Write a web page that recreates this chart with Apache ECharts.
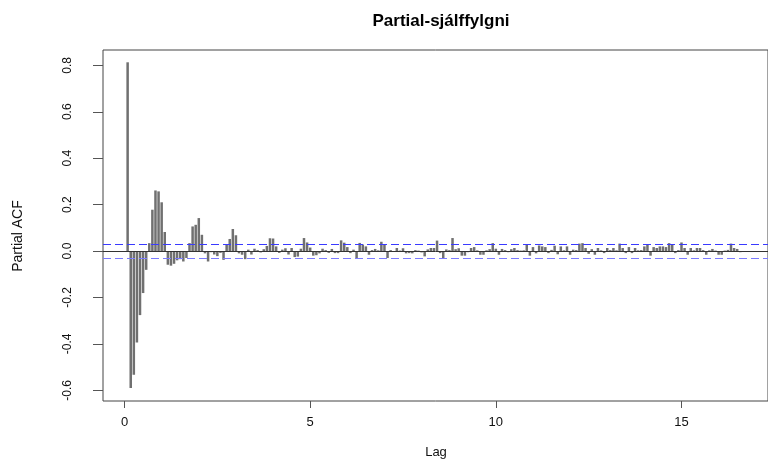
<!DOCTYPE html>
<html>
<head>
<meta charset="utf-8">
<script src="https://cdn.jsdelivr.net/npm/echarts@6/dist/echarts.min.js"></script>
<style>html,body{margin:0;padding:0;background:#fff}#c{width:768px;height:459px}</style>
</head>
<body>
<div id="c"></div>
<script>
const titleText = 'Partial-sjálffylgni';
const xTitle = 'Lag';
const yTitle = 'Partial ACF';
const lagFrequency = 12;
const xTicks = [0, 5, 10, 15];
const yTicks = [-0.6, -0.4, -0.2, 0.0, 0.2, 0.4, 0.6, 0.8];
const ciBound = 0.03;
const pacf = [
  0.813, -0.590, -0.533, -0.394, -0.276, -0.181, -0.081, 0.034, 0.178, 0.261,
  0.257, 0.210, 0.082, -0.059, -0.063, -0.055, -0.040, -0.035, -0.045, -0.030,
  0.034, 0.106, 0.113, 0.142, 0.070, -0.010, -0.045, -0.005, -0.015, -0.022,
  -0.008, -0.038, 0.030, 0.052, 0.095, 0.068, -0.010, -0.016, -0.035, 0.006,
  -0.015, 0.010, 0.004, -0.006, 0.008, 0.022, 0.055, 0.054, 0.020, -0.008,
  0.006, 0.012, -0.015, 0.013, -0.026, -0.024, 0.010, 0.056, 0.037, 0.015,
  -0.020, -0.018, -0.010, 0.010, 0.004, -0.008, 0.009, -0.009, -0.009, 0.046,
  0.036, 0.017, -0.009, 0.006, -0.030, 0.035, 0.028, 0.020, -0.016, 0.004,
  0.009, 0.003, 0.040, 0.027, -0.030, 0.004, -0.003, 0.013, 0.002, 0.012,
  -0.010, -0.009, -0.010, 0.004, 0.002, -0.006, -0.023, 0.007, 0.013, 0.013,
  0.045, -0.009, -0.030, 0.007, 0.004, 0.056, 0.008, 0.012, -0.020, -0.020,
  -0.005, 0.013, 0.017, 0.003, -0.016, -0.016, 0.003, 0.008, 0.034, 0.010,
  -0.016, 0.009, 0.004, -0.005, 0.008, 0.013, 0.004, 0.002, 0.003, 0.028,
  -0.020, 0.017, -0.010, 0.024, 0.020, 0.017, -0.009, 0.005, 0.023, -0.014,
  0.020, 0.003, 0.020, -0.016, 0.006, 0.004, 0.032, 0.034, 0.013, -0.012,
  0.008, -0.016, 0.013, 0.003, -0.009, 0.013, 0.004, 0.013, 0.003, 0.032,
  0.013, -0.009, 0.017, -0.009, 0.013, 0.003, 0.004, 0.020, 0.027, -0.020,
  0.017, 0.013, 0.020, 0.020, 0.017, 0.034, 0.027, -0.009, 0.004, 0.037,
  0.013, -0.016, 0.013, 0.003, 0.013, 0.013, 0.004, -0.016, 0.003, 0.009,
  0.002, -0.016, -0.016, 0.002, 0.005, 0.032, 0.013, 0.009, -0.005, -0.004
];
const lags = pacf.map((_, i) => (i + 1) / lagFrequency);
const barData = pacf.map((v, i) => [lags[i], v]);

const font = '"Liberation Sans", Arial, sans-serif';
const chart = echarts.init(document.getElementById('c'), null, {renderer: 'canvas'});
chart.setOption({
  animation: false,
  backgroundColor: '#fff',
  title: {
    text: titleText, left: 436, top: 8, textAlign: 'center',
    textStyle: {fontFamily: font, fontSize: 17, fontWeight: 'bold', color: '#000'}
  },
  grid: {left: 103, right: -2, top: 50, bottom: 58, show: true, borderColor: '#444', borderWidth: 1},
  xAxis: {
    type: 'value', min: -0.58, max: 17.33,
    axisLine: {show: false, onZero: false},
    splitLine: {show: false},
    axisTick: {show: true, length: 7, lineStyle: {color: '#555'}, customValues: xTicks},
    axisLabel: {customValues: xTicks, margin: 15, fontFamily: font, fontSize: 13, color: '#111', formatter: v => String(v)}
  },
  yAxis: {
    type: 'value', min: -0.646, max: 0.866,
    axisLine: {show: false, onZero: false},
    splitLine: {show: false},
    axisTick: {show: true, length: 10, lineStyle: {color: '#555'}, customValues: yTicks},
    axisLabel: {customValues: yTicks, rotate: 90, margin: 29, fontFamily: font, fontSize: 12, color: '#111', formatter: v => v.toFixed(1)}
  },
  graphic: [
    {type: 'text', x: 436, y: 452, style: {text: xTitle, font: '13px ' + font, fill: '#111', align: 'center', verticalAlign: 'middle'}},
    {type: 'text', x: 18, y: 236, rotation: Math.PI / 2, style: {text: yTitle, font: '14px ' + font, fill: '#111', align: 'center', verticalAlign: 'middle'}}
  ],
  series: [{
    type: 'bar',
    data: barData,
    barWidth: 2.5,
    itemStyle: {color: '#707070'},
    silent: true,
    markLine: {
      silent: true, symbol: 'none', label: {show: false},
      data: [
        {yAxis: 0, lineStyle: {color: '#333', type: 'solid', width: 1}},
        {yAxis: ciBound, lineStyle: {color: '#3a3aff', type: [8, 4], width: 1}},
        {yAxis: -ciBound, lineStyle: {color: '#7a7aff', type: [8, 4], width: 1.2}}
      ]
    }
  }]
});
</script>
</body>
</html>
